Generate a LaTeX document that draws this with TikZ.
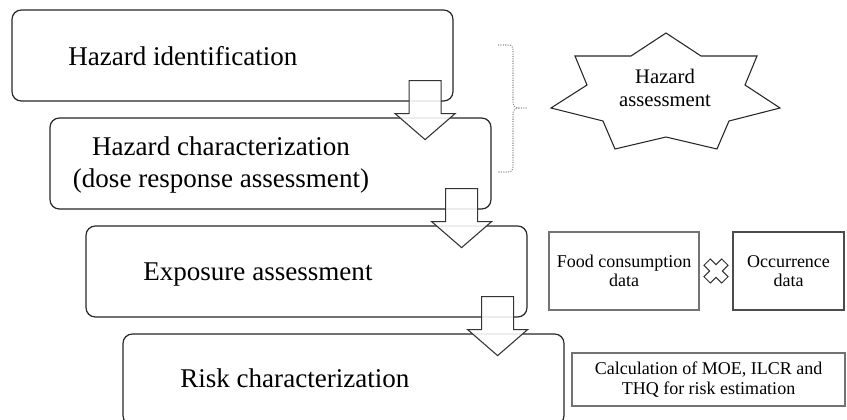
\documentclass[tikz,border=0pt]{standalone}
\usepackage{fontspec}
\setmainfont{Liberation Serif}
\usetikzlibrary{calc}
\begin{document}
\begin{tikzpicture}[x=0.75pt,y=-0.75pt,
  stagebox/.style={draw=black!85, line width=0.9pt, rounded corners=7pt, fill=white,
    minimum width=330.75pt, minimum height=68.25pt, inner sep=0pt},
  bigtext/.style={font=\fontsize{20.3}{23.5}\selectfont, inner sep=0pt},
  databox/.style={draw=black!55, line width=0.8pt, inner sep=0pt, align=center,
    font=\fontsize{13.5}{14.5}\selectfont},
  blockarrowstyle/.style={draw=black!80, line width=0.8pt, fill=white, fill opacity=0.88},
  blockarrow/.pic={\draw[blockarrowstyle] (-16,0) -- (16,0) -- (16,33) -- (30,33) -- (0,59) -- (-30,33) -- (-16,33) -- cycle;}
]
\useasboundingbox (0,0) rectangle (847,419);
\clip (0,0) rectangle (847,419);

% stage boxes
\node[stagebox] (b1) at (232.5,55.5) {};
\node[stagebox] (b2) at (270.5,163.5) {};
\node[stagebox] (b3) at (306.5,271.5) {};
\node[stagebox] (b4) at (343.5,379.5) {};

\node[bigtext, anchor=base west] (t1) at (68,65) {Hazard identification};
\node[bigtext, align=center] (t2) at (221,165) {Hazard characterization\\(dose response assessment)};
\node[bigtext, anchor=base west] (t3) at (143,280) {Exposure assessment};
\node[bigtext, anchor=base west] (t4) at (180,387) {Risk characterization};

% block arrows
\pic at ($(b1.south east)+(-28.5,-21)$) {blockarrow};
\pic at ($(b2.south east)+(-30,-21)$) {blockarrow};
\pic at ($(b3.south east)+(-30,-21)$) {blockarrow};

% brace
\coordinate (brtop) at (498,45);
\coordinate (brtip) at (528,108);
\coordinate (brbot) at (498,172);
\draw[black!45, densely dotted, line width=0.8pt]
  (brtop) -- (508,45) .. controls (512,45) and (513,47) .. (513,51)
  -- (513,102) .. controls (513,106) and (515,108) .. (519,108) -- (brtip)
  (519,108) .. controls (515,108) and (513,110) .. (513,114)
  -- (513,166) .. controls (513,170) and (512,172) .. (508,172) -- (brbot);

% star
\draw[black!85, line width=0.8pt, fill=white]
  (666,33) -- (701,56) -- (757,56) -- (745,85) -- (780,108) -- (729,121) -- (717,149)
  -- (666,137) -- (615,149) -- (603,121) -- (551,108) -- (587,85) -- (575,56) -- (631,56) -- cycle;
\node[align=center, inner sep=0pt, font=\fontsize{15.5}{17.25}\selectfont] (star) at (665,88) {Hazard\\assessment};

% data boxes
\node[databox, minimum width=112.5pt, minimum height=58.5pt] (food) at (624,271) {Food consumption\\data};
\node[databox, minimum width=83.25pt, minimum height=58.5pt, draw=black!70] (occ) at (788.5,271) {Occurrence\\data};
\node[databox, minimum width=204.75pt, minimum height=39.75pt] (calc) at (708.5,379.5) {Calculation of MOE, ILCR and\\THQ for risk estimation};

% multiplication cross
\coordinate (mult) at ($(food.east)!0.5!(occ.west)$);
\begin{scope}[shift={(mult)}, rotate=45]
\draw[black!80, line width=0.7pt, fill=white]
  (-4.5,-12.5) -- (4.5,-12.5) -- (4.5,-4.5) -- (12.5,-4.5) -- (12.5,4.5) -- (4.5,4.5)
  -- (4.5,12.5) -- (-4.5,12.5) -- (-4.5,4.5) -- (-12.5,4.5) -- (-12.5,-4.5) -- (-4.5,-4.5) -- cycle;
\end{scope}
\end{tikzpicture}
\end{document}
